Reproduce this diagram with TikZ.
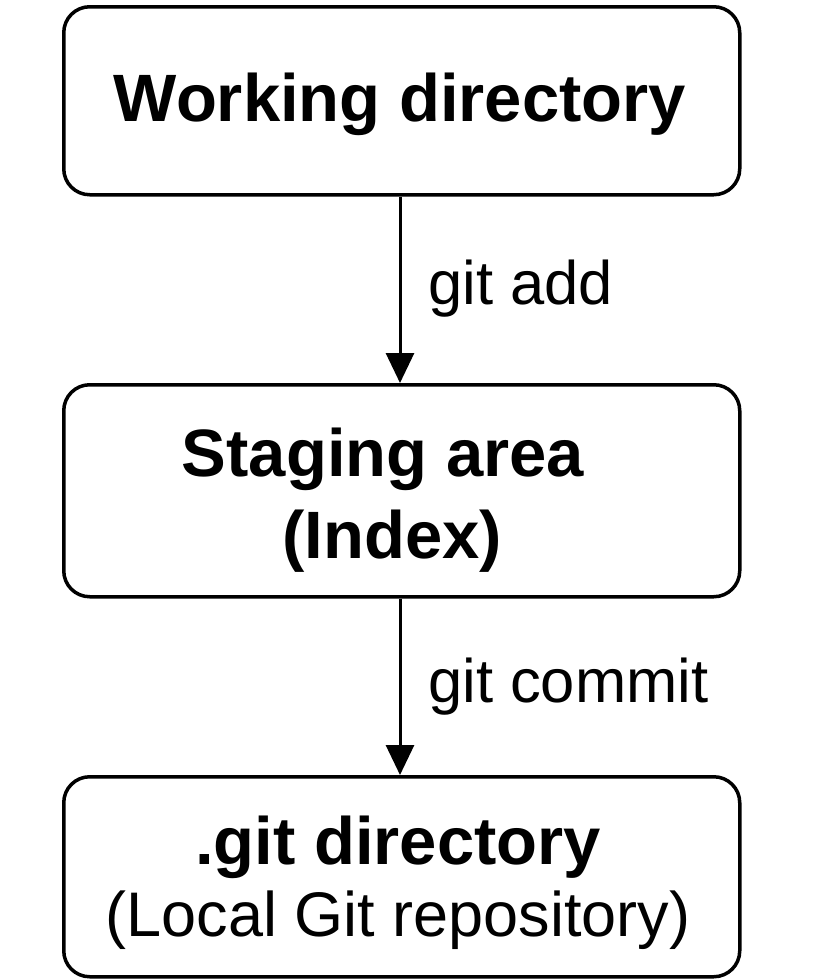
\documentclass[tikz,border=0pt]{standalone}
\usepackage{fontspec}
\setmainfont{Liberation Sans}
\usetikzlibrary{arrows.meta}
\tikzset{
  box/.style={draw=black, line width=3.5pt, rounded corners=26pt, minimum width=676pt, anchor=north west, inner sep=0pt},
  title/.style={font=\fontsize{67}{70}\selectfont\bfseries, inner sep=0pt},
  sub/.style={font=\fontsize{63}{66}\selectfont, inner sep=0pt},
  lab/.style={font=\fontsize{61.5}{64}\selectfont, inner sep=0pt, anchor=west},
  conn/.style={line width=3pt, -{Triangle[width=28pt,length=30pt]}}
}
\begin{document}
\begin{tikzpicture}[x=1pt,y=-1pt]
\useasboundingbox (0,0) rectangle (819,980);
\node[box, minimum height=188pt] (wd) at (62,5) {};
\node[box, minimum height=212pt] (sa) at (62,383) {};
\node[box, minimum height=200pt] (gd) at (62,775) {};
\node[title] (t1) at (400,104) {Working directory};
\node[title] (t2) at (383,459) {Staging area};
\node[title] (t3) at (392,541) {(Index)};
\node[title] (t4) at (398,847) {.git directory};
\node[sub] (t5) at (398,920) {(Local Git repository)};
\draw[conn] (wd.south -| 400,0) -- (sa.north -| 400,0);
\draw[conn] (sa.south -| 400,0) -- (gd.north -| 400,0);
\node[lab] (l1) at (428,289) {git add};
\node[lab] (l2) at (428,687) {git commit};
\end{tikzpicture}
\end{document}
